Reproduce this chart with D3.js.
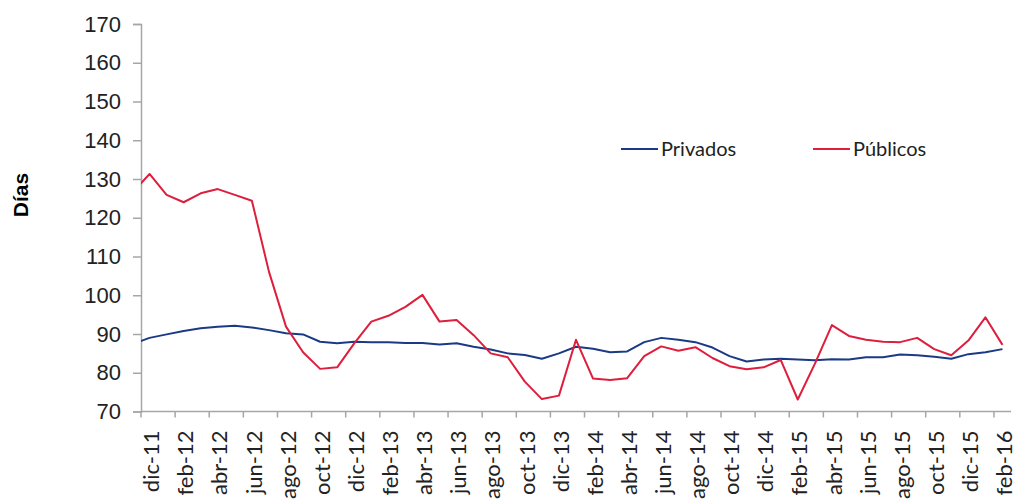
<!DOCTYPE html>
<html>
<head>
<meta charset="utf-8">
<script src="https://cdn.jsdelivr.net/npm/d3@7"></script>
<style>
  body { margin: 0; background: #fff; }
  svg { display: block; }
</style>
</head>
<body>
<svg width="1015" height="501"></svg>
<script>
// months, nov-11 sits just left of the plot and is clipped (line enters from the axis)
var months = ["nov-11","dic-11","ene-12","feb-12","mar-12","abr-12","may-12","jun-12","jul-12","ago-12","sep-12","oct-12","nov-12",
  "dic-12","ene-13","feb-13","mar-13","abr-13","may-13","jun-13","jul-13","ago-13","sep-13","oct-13","nov-13",
  "dic-13","ene-14","feb-14","mar-14","abr-14","may-14","jun-14","jul-14","ago-14","sep-14","oct-14","nov-14",
  "dic-14","ene-15","feb-15","mar-15","abr-15","may-15","jun-15","jul-15","ago-15","sep-15","oct-15","nov-15",
  "dic-15","ene-16","feb-16"];

var privados = [87.4, 89.0, 89.9, 90.8, 91.5, 91.9, 92.1, 91.7, 91.0, 90.2, 89.9, 88.0, 87.6,
  88.0, 87.9, 87.9, 87.7, 87.7, 87.3, 87.6, 86.7, 86.0, 85.0, 84.6, 83.6,
  85.0, 86.7, 86.2, 85.3, 85.5, 87.9, 89.0, 88.5, 87.9, 86.5, 84.3, 82.9,
  83.4, 83.6, 83.4, 83.2, 83.5, 83.4, 84.0, 84.0, 84.7, 84.5, 84.1, 83.6,
  84.8, 85.3, 86.1];

var publicos = [126.5, 131.3, 125.9, 124.0, 126.3, 127.4, 125.9, 124.4, 106.1, 91.9, 85.3, 81.0, 81.4,
  87.6, 93.2, 94.7, 97.0, 100.1, 93.2, 93.6, 89.7, 85.0, 84.0, 77.7, 73.2,
  74.1, 88.5, 78.5, 78.1, 78.6, 84.3, 86.8, 85.7, 86.6, 83.8, 81.7, 80.9,
  81.4, 83.3, 73.1, 82.3, 92.3, 89.5, 88.5, 88.0, 87.9, 89.0, 86.1, 84.5,
  88.3, 94.3, 87.2];

var yTicks = [70, 80, 90, 100, 110, 120, 130, 140, 150, 160, 170];

var series = [
  { name: "Privados", values: privados, color: "#1b3a85" },
  { name: "Públicos", values: publicos, color: "#dd1e3c" }
];

var svg = d3.select("svg"),
    plotLeft = 141, plotRight = 1011, plotTop = 24, plotBottom = 411.5;

var step = (plotRight - plotLeft) / 51;

var x = d3.scalePoint()
    .domain(months)
    .range([plotLeft - step / 2, plotRight - step / 2]);

var y = d3.scaleLinear()
    .domain([70, 170])
    .range([plotBottom, plotTop]);

svg.append("defs").append("clipPath").attr("id", "plot")
  .append("rect").attr("x", plotLeft).attr("y", 0).attr("width", plotRight - plotLeft).attr("height", 501);

// y axis
var yAxis = svg.append("g")
    .attr("transform", "translate(" + plotLeft + ",0)")
    .call(d3.axisLeft(y).tickValues(yTicks).tickSize(8).tickPadding(12));
yAxis.select(".domain").attr("stroke", "#a6a6a6").attr("stroke-width", 1.5);
yAxis.selectAll(".tick line").attr("stroke", "#a6a6a6").attr("stroke-width", 1.5);
yAxis.selectAll(".tick text")
    .attr("fill", "#222")
    .style("font-family", "'Liberation Sans', Arial, sans-serif")
    .style("font-size", "22px");

// x axis: tick marks on category boundaries every 2 months, labels on the points
var labelMonths = months.filter(function(d, i) { return i >= 1 && (i - 1) % 2 == 0; });

var xg = svg.append("g");
xg.append("line")
    .attr("x1", plotLeft).attr("x2", plotRight)
    .attr("y1", plotBottom).attr("y2", plotBottom)
    .attr("stroke", "#a6a6a6").attr("stroke-width", 1.5);

xg.selectAll("line.tick")
  .data(labelMonths)
  .enter().append("line")
    .attr("class", "tick")
    .attr("x1", function(d) { return x(d) - step / 2; })
    .attr("x2", function(d) { return x(d) - step / 2; })
    .attr("y1", plotBottom).attr("y2", plotBottom + 6)
    .attr("stroke", "#a6a6a6").attr("stroke-width", 1.5);

xg.selectAll("text")
  .data(labelMonths)
  .enter().append("text")
    .attr("transform", function(d) { return "translate(" + (x(d) + 2) + "," + (plotBottom + 19) + ") rotate(-90)"; })
    .attr("text-anchor", "end")
    .attr("dy", "0.35em")
    .attr("fill", "#222")
    .style("font-family", "Lato, sans-serif")
    .style("font-size", "22px")
    .text(function(d) { return d; });

// y title
svg.append("text")
    .attr("transform", "translate(21,195) rotate(-90)")
    .attr("text-anchor", "middle")
    .attr("dy", "0.35em")
    .style("font-family", "'Liberation Sans', Arial, sans-serif")
    .style("font-weight", "bold")
    .style("font-size", "21px")
    .text("Días");

// lines
var line = d3.line()
    .x(function(d, i) { return x(months[i]); })
    .y(function(d) { return y(d); });

svg.append("g").attr("clip-path", "url(#plot)")
  .selectAll("path")
  .data(series)
  .enter().append("path")
    .attr("fill", "none")
    .attr("stroke", function(d) { return d.color; })
    .attr("stroke-width", 2)
    .attr("stroke-linejoin", "round")
    .attr("d", function(d) { return line(d.values); });

// legend
var legendX = [621, 813];
var legend = svg.selectAll("g.legend")
  .data(series)
  .enter().append("g")
    .attr("class", "legend")
    .attr("transform", function(d, i) { return "translate(" + legendX[i] + ",149)"; });

legend.append("line")
    .attr("x1", 0).attr("x2", 37)
    .attr("stroke", function(d) { return d.color; })
    .attr("stroke-width", 2);

legend.append("text")
    .attr("x", 40)
    .attr("dy", "0.35em")
    .attr("fill", "#222")
    .style("font-family", "Lato, sans-serif")
    .style("font-size", "20px")
    .text(function(d) { return d.name; });
</script>
</body>
</html>
